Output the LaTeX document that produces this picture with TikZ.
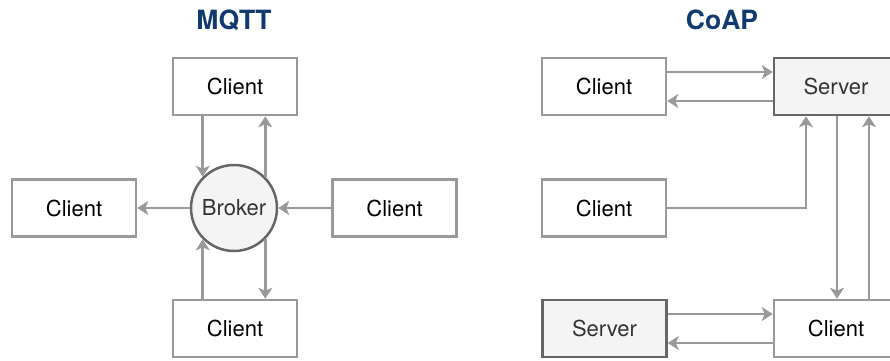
\documentclass[tikz,border=0pt]{standalone}
\usepackage{fontspec}
\setmainfont{TeX Gyre Heros}
\usetikzlibrary{arrows.meta}

\definecolor{titleblue}{RGB}{16,58,110}
\definecolor{linegray}{RGB}{153,153,153}
\definecolor{darkborder}{RGB}{102,102,102}
\definecolor{lightfill}{RGB}{244,244,244}
\definecolor{softtext}{RGB}{51,51,51}

\tikzset{
  title/.style={font=\fontsize{26.5}{31}\selectfont\bfseries, text=titleblue},
  clientbox/.style={draw=linegray, line width=2.5pt, fill=white,
    minimum width=124pt, minimum height=57pt, inner sep=0pt,
    font=\fontsize{22}{26}\selectfont, text=black},
  serverbox/.style={clientbox, draw=darkborder, fill=lightfill, text=softtext},
  brokernode/.style={circle, draw=darkborder, line width=2.5pt, fill=lightfill,
    minimum size=86pt, inner sep=0pt, font=\fontsize{22}{26}\selectfont, text=softtext},
  flow/.style={draw=linegray, line width=2.5pt,
    -{Stealth[length=11pt, width=14pt, inset=3pt]}},
}

\begin{document}
\begin{tikzpicture}[x=1pt, y=-1pt]
  \useasboundingbox (0,0) rectangle (890,360);
  \clip (0,0) rectangle (890,360);

  % ---------- MQTT: clients around a central broker ----------
  \node[title] (mqtt) at (234,20) {MQTT};
  \node[brokernode] (broker) at (234,208) {Broker};
  \node[clientbox] (mtop)    at (235,86.5)  {Client};
  \node[clientbox] (mleft)   at (74,208)    {Client};
  \node[clientbox] (mright)  at (394.5,208) {Client};
  \node[clientbox] (mbottom) at (235,328.5) {Client};

  \draw[flow] (mtop.south -| broker.135) -- (broker.135);
  \draw[flow] (broker.45) -- (mtop.south -| broker.45);
  \draw[flow] (mright.west) -- (broker.east);
  \draw[flow] (broker.west) -- (mleft.east);
  \draw[flow] (mbottom.north -| broker.225) -- (broker.225);
  \draw[flow] (broker.315) -- (mbottom.north -| broker.315);

  % ---------- CoAP: request/response between clients and servers ----------
  \node[title] (coap) at (722,20) {CoAP};
  \node[clientbox] (c1) at (604,86.5)  {Client};
  \node[serverbox] (s1) at (836,86.5)  {Server};
  \node[clientbox] (c2) at (604,208)   {Client};
  \node[serverbox] (s2) at (604.5,328.5) {Server};
  \node[clientbox] (c3) at (836,328.5) {Client};

  \draw[flow] ([yshift=14.5pt]c1.east) -- ([yshift=14.5pt]c1.east -| s1.west);
  \draw[flow] ([yshift=-14.5pt]s1.west) -- ([yshift=-14.5pt]s1.west -| c1.east);
  \draw[flow] (c2.east) -| ([xshift=-30pt]s1.south);
  \draw[flow] ([xshift=1pt]s1.south) -- ([xshift=1pt]c3.north);
  \draw[flow] ([xshift=33pt]c3.north) -- ([xshift=33pt]s1.south);
  \draw[flow] ([yshift=14.5pt]s2.east) -- ([yshift=14.5pt]s2.east -| c3.west);
  \draw[flow] ([yshift=-14.5pt]c3.west) -- ([yshift=-14.5pt]c3.west -| s2.east);
\end{tikzpicture}
\end{document}
